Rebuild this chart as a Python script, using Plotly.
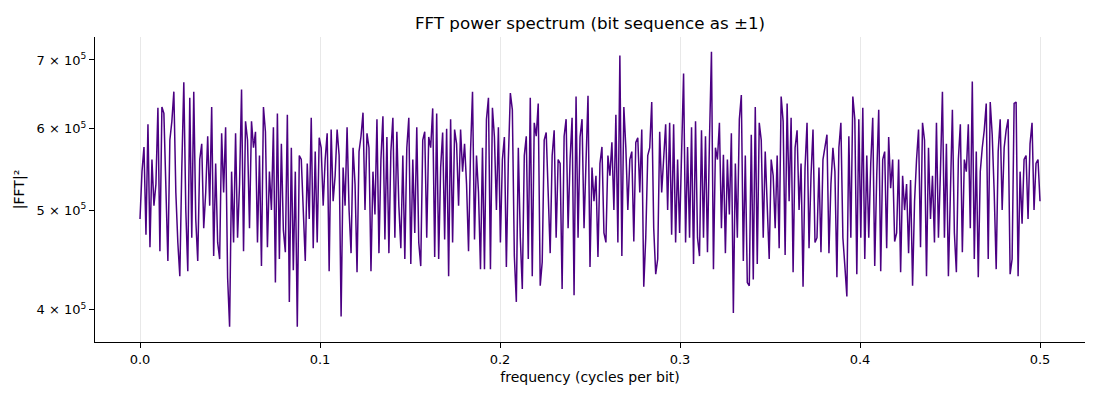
import numpy as np
import plotly.graph_objects as go

# |FFT|^2 values (in thousands), bins evenly spaced 0 .. 0.5
power_k = [
    # 0.000 - 0.043
    490, 545, 576, 473, 606, 460, 560, 505, 530, 629, 456, 630, 621, 510, 446, 585, 610, 652, 520, 465,
    431, 550, 666, 500, 436, 643, 470, 652, 490, 446, 560, 580, 480, 520, 590, 505, 630, 451, 555,
    # 0.043 - 0.088
    465, 448, 594, 520, 602, 430, 385, 545, 465, 594, 470, 530, 655, 456, 610, 585, 480, 610, 575, 596,
    465, 565, 441, 630, 596, 460, 545, 500, 602, 425, 621, 448, 580, 478, 455, 619, 407, 575, 437, 545,
    385, 565,
    # 0.088 - 0.134
    560, 500, 446, 555, 490, 615, 459, 570, 465, 588, 575, 505, 560, 594, 436, 599, 510, 540, 599, 565,
    394, 550, 505, 602, 500, 454, 575, 530, 435, 570, 590, 622, 500, 594, 575, 436, 545, 495, 613, 454,
    560, 617,
    # 0.134 - 0.180
    468, 589, 454, 570, 615, 470, 596, 505, 459, 565, 448, 575, 615, 443, 560, 475, 602, 465, 441, 585,
    596, 470, 589, 575, 628, 450, 621, 448, 550, 595, 468, 600, 431, 613, 465, 599, 580, 505, 599, 545,
    580,
    # 0.180 - 0.226
    530, 456, 570, 652, 468, 565, 520, 438, 575, 438, 613, 643, 438, 629, 589, 500, 602, 465, 560, 589,
    440, 560, 650, 626, 451, 407, 575, 470, 419, 565, 590, 448, 643, 431, 608, 590, 635, 422, 445, 585,
    595, 525,
    # 0.226 - 0.272
    454, 565, 598, 470, 560, 555, 419, 590, 613, 480, 560, 615, 413, 645, 470, 589, 613, 480, 545, 646,
    440, 550, 510, 540, 450, 555, 576, 475, 465, 565, 540, 582, 500, 619, 465, 707, 451, 630, 575, 500,
    560,
    # 0.272 - 0.318
    570, 466, 582, 588, 520, 599, 421, 470, 565, 575, 637, 480, 433, 448, 596, 520, 555, 606, 500, 608,
    473, 606, 465, 560, 475, 560, 679, 465, 576, 470, 602, 443, 610, 470, 451, 598, 470, 590, 455, 585,
    713, 438,
    # 0.318 - 0.364
    575, 560, 608, 480, 566, 454, 560, 495, 594, 397, 555, 470, 613, 647, 446, 565, 425, 422, 592, 428,
    630, 443, 608, 585, 470, 570, 500, 448, 560, 540, 480, 565, 459, 645, 610, 452, 635, 510, 615, 435,
    575,
    # 0.364 - 0.410
    598, 500, 555, 421, 550, 608, 459, 540, 599, 465, 470, 550, 455, 560, 575, 592, 454, 530, 575, 545,
    430, 575, 608, 470, 441, 412, 590, 470, 645, 613, 433, 613, 470, 629, 448, 565, 470, 555, 615, 441,
    540, 626,
    # 0.410 - 0.455
    436, 560, 570, 459, 589, 525, 560, 466, 475, 560, 435, 540, 500, 530, 454, 535, 422, 510, 560, 599,
    460, 608, 585, 431, 575, 490, 540, 465, 608, 470, 545, 652, 470, 580, 431, 540, 626, 475, 435, 560,
    606,
    # 0.455 - 0.500
    455, 560, 545, 606, 480, 667, 448, 570, 430, 545, 575, 598, 635, 448, 637, 592, 520, 438, 570, 613,
    500, 575, 598, 613, 433, 448, 635, 637, 431, 545, 485, 560, 565, 490, 580, 608, 500, 555, 560, 510,
]

power = np.array(power_k) * 1000.0
freqs = np.linspace(0, 0.5, len(power))

y_ticks = [4e5, 5e5, 6e5, 7e5]
y_labels = ["4 × 10<sup>5</sup>", "5 × 10<sup>5</sup>", "6 × 10<sup>5</sup>", "7 × 10<sup>5</sup>"]
x_ticks = [0.0, 0.1, 0.2, 0.3, 0.4, 0.5]

fig = go.Figure()
fig.add_trace(go.Scatter(x=freqs, y=power, mode="lines",
                         line=dict(color="#4b0082", width=1.5), showlegend=False))

# the page body adds an 8px margin, so the figure is a little smaller than the window
fig.update_layout(
    width=1092, height=392,
    margin=dict(l=87, r=15, t=29, b=58),
    paper_bgcolor="white", plot_bgcolor="white",
    font=dict(family="DejaVu Sans", size=13, color="black"),
    title=dict(text="FFT power spectrum (bit sequence as ±1)", x=0.533, xanchor="center",
               y=0.962, yanchor="middle", font=dict(size=16.7)),
)
fig.update_xaxes(
    range=[-0.025, 0.525], tickvals=x_ticks, tickformat=".1f",
    showgrid=True, gridcolor="#e8e8e8", gridwidth=1, zeroline=False,
    showline=True, linecolor="black", linewidth=1,
    ticks="outside", ticklen=5, tickcolor="black", tickfont=dict(size=13),
    title=dict(text="frequency (cycles per bit)", standoff=6, font=dict(size=14)),
)
fig.update_yaxes(
    type="log", range=[np.log10(3.72e5), np.log10(7.37e5)],
    tickvals=y_ticks, ticktext=y_labels,
    showgrid=False, zeroline=False,
    showline=True, linecolor="black", linewidth=1,
    ticks="outside", ticklen=5, tickcolor="black", tickfont=dict(size=13),
    title=dict(text="|FFT|²", standoff=8, font=dict(size=14)),
)

fig.write_html("out.html")
